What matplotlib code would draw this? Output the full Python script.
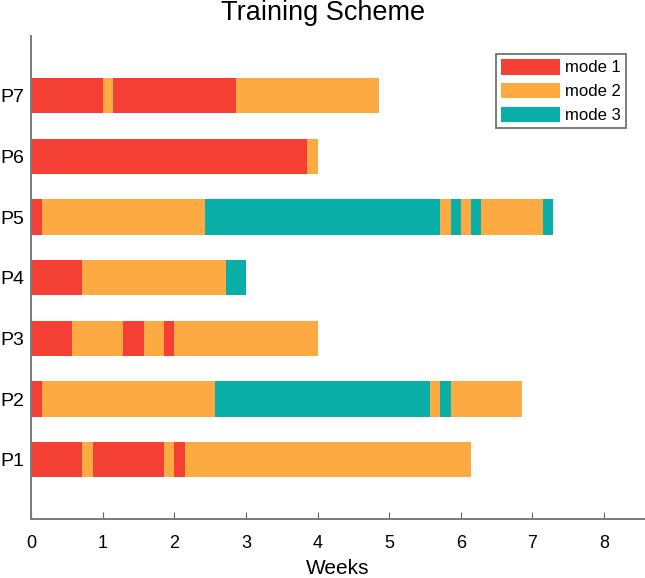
import numpy as np
import matplotlib.pyplot as plt
from matplotlib.patches import Patch

plt.rcParams["font.family"] = ["Liberation Sans", "DejaVu Sans"]

# segments per participant: length in days and training mode (1, 2, 3)
participants = ["P1", "P2", "P3", "P4", "P5", "P6", "P7"]
days = [
    [5, 1, 7, 1, 1, 28],
    [1, 17, 21, 1, 1, 7],
    [4, 5, 2, 2, 1, 14],
    [5, 14, 2],
    [1, 16, 23, 1, 1, 1, 1, 6, 1],
    [27, 1],
    [7, 1, 12, 14],
]
modes = [
    [1, 2, 1, 2, 1, 2],
    [1, 2, 3, 2, 3, 2],
    [1, 2, 1, 2, 1, 2],
    [1, 2, 3],
    [1, 2, 3, 2, 3, 2, 3, 2, 3],
    [1, 2],
    [1, 2, 1, 2],
]
mode_names = ["mode 1", "mode 2", "mode 3"]
mode_colors = {1: "#F43F35", 2: "#FDAA42", 3: "#09AFA6"}

W, H = 645, 578
fig = plt.figure(figsize=(W / 100, H / 100), dpi=100)
# axes box in pixels: left 31, right 644, top 36, bottom 519
ax = fig.add_axes([31.3 / W, 1 - 519.3 / H, (644 - 31.3) / W, (519.3 - 35.7) / H])

for i, (d, m) in enumerate(zip(days, modes)):
    weeks = np.array(d) / 7.0
    starts = np.concatenate([[0], np.cumsum(weeks)[:-1]])
    ax.barh(i + 1, weeks, left=starts, height=0.585,
            color=[mode_colors[k] for k in m], edgecolor="none")

ax.set_xlim(0, 8.56)
ax.set_ylim(0.017, 7.99)
ax.set_xticks(np.arange(0, 9))
ax.set_yticks(np.arange(1, len(participants) + 1))
ax.set_yticklabels(participants)
ax.tick_params(axis="x", direction="in", length=5, labelsize=13, pad=11.5, color="#666666")
ax.tick_params(axis="y", length=0, labelsize=14, pad=5)
for s in ["top", "right"]:
    ax.spines[s].set_visible(False)
for s in ["left", "bottom"]:
    ax.spines[s].set_color("#7a7a7a")
    ax.spines[s].set_linewidth(1.4)

ax.set_xlabel("Weeks", fontsize=15, labelpad=5)
fig.text(323 / W, 1 - 13 / H, "Training Scheme", ha="center", va="center", fontsize=19.5)

handles = [Patch(facecolor=mode_colors[k], edgecolor="none") for k in (1, 2, 3)]
leg = ax.legend(handles, mode_names, loc="upper right", bbox_to_anchor=(0.970, 0.962),
                fontsize=12, handlelength=3.5, handleheight=1.05, handletextpad=0.3,
                labelspacing=0.45, borderpad=0.3, borderaxespad=0, fancybox=False,
                framealpha=1)
leg.get_frame().set_edgecolor("#666666")
leg.get_frame().set_linewidth(1.2)

fig.savefig("out.png", dpi=100)
